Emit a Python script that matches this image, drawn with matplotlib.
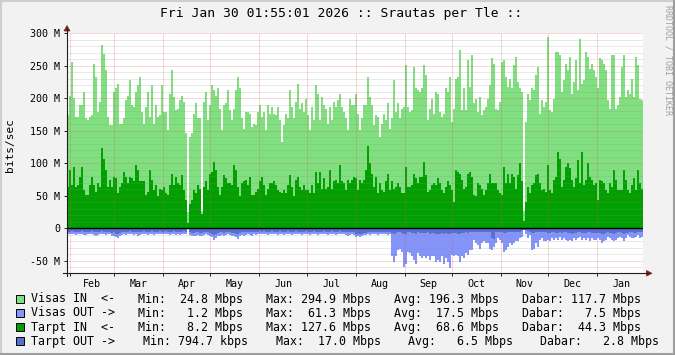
import numpy as np
import matplotlib
matplotlib.use("Agg")
import matplotlib.pyplot as plt
from matplotlib.patches import Rectangle, Polygon
from matplotlib.lines import Line2D

plt.rcParams["font.family"] = ["DejaVu Sans Mono"]

W, H = 675, 355

# time span: one year ending at the graph time
start = np.datetime64("2025-01-30T01:55")
end = np.datetime64("2026-01-30T01:55")

# traffic in Mbit/s, one value per ~1.27 days (one step = 2 px of the original graph)
visas_in = [
    174, 204, 256, 200, 171, 171, 189, 189, 210, 169, 166, 171, 174, 253, 233, 179, 194, 281, 268, 243, 171, 158, 158, 210,
    215, 222, 161, 161, 169, 197, 204, 228, 189, 187, 210, 220, 233, 179, 161, 187, 210, 171, 220, 161, 189, 171, 174, 220,
    179, 179, 151, 207, 243, 202, 181, 184, 197, 204, 194, 146, 25, 141, 146, 176, 192, 169, 169, 26, 194, 210, 166, 189,
    220, 212, 204, 215, 184, 151, 189, 192, 212, 181, 166, 184, 212, 233, 215, 169, 153, 179, 179, 176, 156, 161, 158, 179,
    189, 171, 179, 151, 189, 176, 187, 176, 174, 187, 166, 133, 158, 176, 169, 212, 187, 169, 194, 222, 184, 192, 179, 199,
    174, 151, 187, 166, 220, 207, 166, 202, 189, 184, 161, 187, 166, 194, 187, 197, 207, 187, 179, 169, 151, 199, 189, 189,
    207, 176, 151, 169, 189, 189, 233, 202, 189, 158, 174, 171, 141, 161, 176, 166, 192, 153, 169, 228, 179, 192, 169, 184,
    187, 251, 187, 179, 181, 248, 215, 212, 210, 215, 251, 235, 166, 184, 199, 176, 210, 207, 179, 171, 176, 215, 210, 233,
    164, 184, 230, 233, 274, 181, 215, 181, 258, 217, 266, 192, 199, 179, 202, 174, 181, 187, 199, 220, 261, 253, 184, 181,
    194, 256, 258, 233, 217, 230, 215, 251, 263, 225, 215, 210, 26, 164, 207, 197, 215, 212, 235, 248, 176, 197, 187, 194,
    294, 181, 179, 199, 271, 271, 266, 210, 228, 253, 243, 263, 207, 225, 258, 212, 291, 222, 228, 271, 263, 245, 253, 243,
    233, 215, 261, 258, 253, 243, 197, 184, 266, 266, 184, 189, 202, 248, 266, 202, 212, 207, 230, 202, 263, 251, 199, 197,
]

tarpt_in = [
    64, 89, 66, 95, 64, 66, 79, 95, 59, 51, 51, 66, 79, 66, 56, 69, 64, 123, 107, 89, 64, 74, 64, 79,
    77, 54, 64, 69, 87, 79, 69, 79, 77, 72, 97, 89, 72, 72, 72, 51, 56, 89, 74, 59, 66, 49, 61, 59,
    64, 54, 51, 66, 84, 66, 79, 69, 66, 82, 59, 43, 8, 38, 43, 59, 54, 66, 61, 22, 64, 72, 59, 84,
    87, 102, 89, 64, 51, 64, 82, 77, 69, 69, 66, 97, 89, 64, 49, 69, 72, 74, 66, 79, 51, 51, 56, 61,
    72, 79, 66, 51, 61, 69, 69, 72, 66, 59, 56, 54, 59, 54, 66, 82, 64, 49, 74, 79, 64, 59, 66, 59,
    59, 54, 66, 54, 87, 69, 87, 61, 77, 61, 64, 89, 61, 72, 74, 69, 97, 72, 69, 59, 74, 69, 74, 79,
    77, 59, 74, 69, 74, 89, 127, 100, 84, 64, 79, 54, 69, 59, 56, 72, 84, 59, 72, 61, 64, 69, 64, 54,
    54, 95, 64, 64, 66, 84, 77, 69, 79, 79, 102, 82, 56, 59, 66, 69, 66, 77, 69, 59, 54, 64, 72, 66,
    59, 41, 89, 87, 84, 74, 61, 64, 84, 87, 79, 51, 49, 69, 66, 61, 51, 59, 69, 84, 69, 69, 69, 59,
    54, 51, 95, 69, 84, 69, 84, 79, 61, 82, 100, 72, 12, 41, 64, 54, 66, 69, 82, 84, 69, 59, 61, 56,
    97, 59, 54, 74, 79, 118, 107, 64, 74, 95, 100, 92, 74, 64, 77, 105, 69, 118, 66, 74, 100, 79, 74, 66,
    69, 43, 74, 72, 69, 59, 54, 69, 64, 89, 74, 59, 59, 59, 89, 74, 59, 54, 66, 77, 59, 89, 69, 61,
]

visas_out = [
    -8, -9, -9, -8, -10, -9, -8, -9, -10, -10, -9, -8, -9, -10, -11, -10, -9, -8, -9, -10, -9, -9, -12, -11,
    -14, -15, -12, -10, -9, -10, -9, -8, -9, -10, -9, -11, -10, -9, -8, -9, -10, -9, -8, -10, -9, -9, -8, -9,
    -9, -8, -9, -10, -9, -8, -10, -9, -10, -9, -8, -9, -1, -10, -11, -12, -11, -10, -11, -12, -10, -9, -10, -11,
    -13, -18, -15, -12, -11, -10, -11, -10, -9, -10, -11, -12, -13, -16, -12, -10, -11, -10, -9, -10, -11, -9, -10, -9,
    -8, -9, -8, -9, -10, -9, -8, -9, -9, -10, -8, -9, -10, -9, -8, -9, -10, -9, -8, -9, -9, -10, -9, -8,
    -9, -10, -9, -8, -9, -10, -9, -9, -8, -9, -10, -9, -8, -9, -10, -9, -8, -9, -9, -10, -11, -10, -9, -10,
    -13, -12, -13, -11, -10, -10, -9, -10, -9, -8, -9, -10, -9, -8, -9, -9, -10, -9, -43, -51, -43, -33, -31, -36,
    -59, -54, -36, -38, -43, -49, -54, -38, -43, -46, -43, -46, -43, -49, -43, -43, -51, -49, -51, -43, -54, -46, -51, -61,
    -41, -43, -41, -43, -51, -43, -46, -38, -41, -33, -33, -18, -23, -26, -31, -23, -20, -23, -23, -31, -33, -28, -23, -15,
    -18, -23, -36, -33, -28, -23, -26, -23, -20, -20, -15, -13, -3, -8, -15, -10, -33, -31, -23, -28, -18, -15, -20, -20,
    -18, -20, -15, -18, -15, -18, -13, -18, -15, -18, -20, -18, -20, -15, -18, -15, -13, -18, -15, -18, -15, -20, -15, -18,
    -18, -15, -18, -23, -20, -18, -13, -15, -18, -20, -18, -15, -13, -15, -20, -15, -10, -13, -15, -15, -13, -10, -15, -13,
]

tarpt_out = [
    -5, -5, -4, -5, -6, -5, -5, -4, -5, -6, -5, -5, -4, -5, -6, -5, -5, -4, -5, -6, -5, -5, -7, -6,
    -8, -9, -7, -6, -5, -6, -5, -4, -5, -6, -5, -6, -5, -5, -4, -5, -6, -5, -4, -6, -5, -5, -4, -5,
    -5, -4, -5, -6, -5, -4, -6, -5, -6, -5, -4, -5, -1, -6, -7, -7, -6, -6, -7, -7, -6, -5, -6, -7,
    -8, -10, -9, -7, -6, -6, -7, -6, -5, -6, -7, -7, -8, -9, -7, -6, -6, -6, -5, -6, -6, -5, -6, -5,
    -4, -5, -4, -5, -5, -5, -4, -5, -5, -5, -4, -5, -5, -5, -4, -5, -5, -5, -4, -5, -5, -5, -5, -4,
    -5, -5, -5, -4, -5, -5, -5, -5, -4, -5, -5, -5, -4, -5, -5, -5, -4, -5, -5, -5, -6, -5, -5, -6,
    -9, -8, -9, -8, -7, -7, -6, -6, -6, -5, -6, -6, -5, -5, -5, -6, -6, -5, -7, -8, -7, -6, -6, -7,
    -9, -8, -6, -6, -7, -7, -8, -6, -7, -7, -7, -7, -6, -8, -7, -7, -8, -8, -8, -7, -8, -7, -8, -9,
    -7, -7, -7, -8, -8, -7, -7, -6, -7, -6, -6, -5, -5, -6, -6, -6, -5, -6, -6, -6, -15, -17, -6, -5,
    -5, -6, -7, -7, -6, -6, -6, -6, -5, -6, -5, -4, -2, -3, -4, -5, -7, -7, -6, -6, -5, -5, -5, -5,
    -7, -7, -6, -6, -7, -7, -6, -7, -6, -6, -7, -7, -8, -7, -7, -6, -6, -7, -7, -7, -6, -6, -7, -7,
    -7, -7, -7, -8, -8, -7, -6, -7, -7, -8, -7, -6, -6, -7, -8, -7, -7, -6, -6, -7, -7, -6, -6, -5,
]

month_names = ["Feb", "Mar", "Apr", "May", "Jun", "Jul", "Aug", "Sep", "Oct", "Nov", "Dec", "Jan"]
ytick_vals = [-50, 0, 50, 100, 150, 200, 250, 300]
ytick_labels = ["-50 M", "0", "50 M", "100 M", "150 M", "200 M", "250 M", "300 M"]

legend_colors = ["#80e080", "#8494fa", "#00a000", "#5470d0"]
legend_rows = [
    [(30.7, "Visas IN  <-"), (137.7, "Min:  24.8 Mbps"), (265.7, "Max: 294.9 Mbps"), (394, "Avg: 196.3 Mbps"), (521.7, "Dabar: 117.7 Mbps")],
    [(30.7, "Visas OUT ->"), (137.7, "Min:   1.2 Mbps"), (265.7, "Max:  61.3 Mbps"), (394, "Avg:  17.5 Mbps"), (521.7, "Dabar:   7.5 Mbps")],
    [(30.7, "Tarpt IN  <-"), (137.7, "Min:   8.2 Mbps"), (265.7, "Max: 127.6 Mbps"), (394, "Avg:  68.6 Mbps"), (521.7, "Dabar:  44.3 Mbps")],
    [(30.7, "Tarpt OUT ->"), (142.7, "Min: 794.7 kbps"), (276, "Max:  17.0 Mbps"), (408.3, "Avg:   6.5 Mbps"), (540, "Dabar:   2.8 Mbps")],
]
legend_y = [299, 313, 327, 341]

title = "Fri Jan 30 01:55:01 2026 :: Srautas per Tle ::"


def fx(x):
    return x / W


def fy(y):
    return 1 - y / H


span = (end - start) / np.timedelta64(1, "D")
edges = np.linspace(0, span, len(visas_in) + 1)
months = np.arange("2025-02", "2026-03", dtype="datetime64[M]").astype("datetime64[m]")
month_days = (months - start) / np.timedelta64(1, "D")
grid_days = month_days[:-1]
label_days = (month_days[:-1] + month_days[1:]) / 2

fig = plt.figure(figsize=(W / 100, H / 100), dpi=100)
fig.patch.set_facecolor("#f2f2f2")

ax = fig.add_axes([fx(67), fy(273.3), 576 / W, 240.3 / H])
ax.set_facecolor("white")
ax.set_xlim(0, span)
ax.set_ylim(-69, 300)
for s in ax.spines.values():
    s.set_visible(False)

ax.stairs(visas_in, edges, baseline=0, fill=True, color=legend_colors[0], lw=0, zorder=2)
ax.stairs(tarpt_in, edges, baseline=0, fill=True, color=legend_colors[2], lw=0, zorder=3)
ax.stairs(visas_out, edges, baseline=0, fill=True, color=legend_colors[1], lw=0, zorder=2)
ax.stairs(tarpt_out, edges, baseline=0, fill=True, color=legend_colors[3], lw=0, zorder=3)

# grid over the data, rrdtool style
minor_c = (0.56, 0.56, 0.56, 0.4)
major_c = (0.87, 0.31, 0.31, 0.45)
for v in range(-60, 301, 10):
    if v == 0:
        continue
    c = major_c if v % 50 == 0 else minor_c
    ax.axhline(v, color=c, lw=0.72, ls=(0, (1, 1)), zorder=5)
for d in grid_days:
    ax.axvline(d, color=major_c, lw=0.72, ls=(0, (1, 1)), zorder=5)
ax.axhline(0, color="black", lw=1.0, zorder=6)

ax.set_yticks(ytick_vals, ytick_labels)
ax.set_xticks(label_days, month_names)
ax.set_xticks(grid_days, minor=True)
ax.tick_params(axis="y", length=2, width=0.7, color="#1f1f1f", pad=3, labelsize=7.2)
ax.tick_params(axis="x", which="major", length=0, pad=4, labelsize=7.2)
ax.tick_params(axis="x", which="minor", length=2.5, width=0.7, color="#1f1f1f")

# axes with arrows
axis_c = "#1f1f1f"
arrow_c = "#801f1f"
fig.add_artist(Line2D([fx(67), fx(67)], [fy(276), fy(29)], color=axis_c, lw=0.8))
fig.add_artist(Line2D([fx(63), fx(648)], [fy(273.3), fy(273.3)], color=axis_c, lw=0.8))
fig.add_artist(Polygon([[fx(64), fy(31)], [fx(70), fy(31)], [fx(67), fy(25.5)]], closed=True,
                       transform=fig.transFigure, fc=arrow_c, ec=arrow_c, lw=0.5))
fig.add_artist(Polygon([[fx(646.5), fy(270.5)], [fx(646.5), fy(276.1)], [fx(652), fy(273.3)]], closed=True,
                       transform=fig.transFigure, fc=arrow_c, ec=arrow_c, lw=0.5))

# texts
fig.text(fx(341), fy(14), title, ha="center", va="center", fontsize=9.4)
fig.text(fx(10), fy(145), "bits/sec", rotation=90, ha="center", va="center", fontsize=8)
fig.text(fx(668), fy(5), "RRDTOOL / TOBI OETIKER", rotation=270, ha="center", va="top",
         fontsize=6, color="#a0a0a0")

for color, row, y in zip(legend_colors, legend_rows, legend_y):
    fig.add_artist(Rectangle((fx(16), fy(y + 4)), 8 / W, 8 / H, transform=fig.transFigure,
                             fc=color, ec="black", lw=0.7))
    for x, txt in row:
        fig.text(fx(x), fy(y), txt, ha="left", va="center", fontsize=8.4)

# 3d frame
fig.add_artist(Line2D([0, 1], [fy(1), fy(1)], color="#cfcfcf", lw=1.5))
fig.add_artist(Line2D([fx(1), fx(1)], [0, 1], color="#cfcfcf", lw=1.5))
fig.add_artist(Line2D([0, 1], [fy(354), fy(354)], color="#9e9e9e", lw=1.5))
fig.add_artist(Line2D([fx(674), fx(674)], [0, 1], color="#9e9e9e", lw=1.5))

fig.savefig("out.png", dpi=100, facecolor=fig.get_facecolor())
